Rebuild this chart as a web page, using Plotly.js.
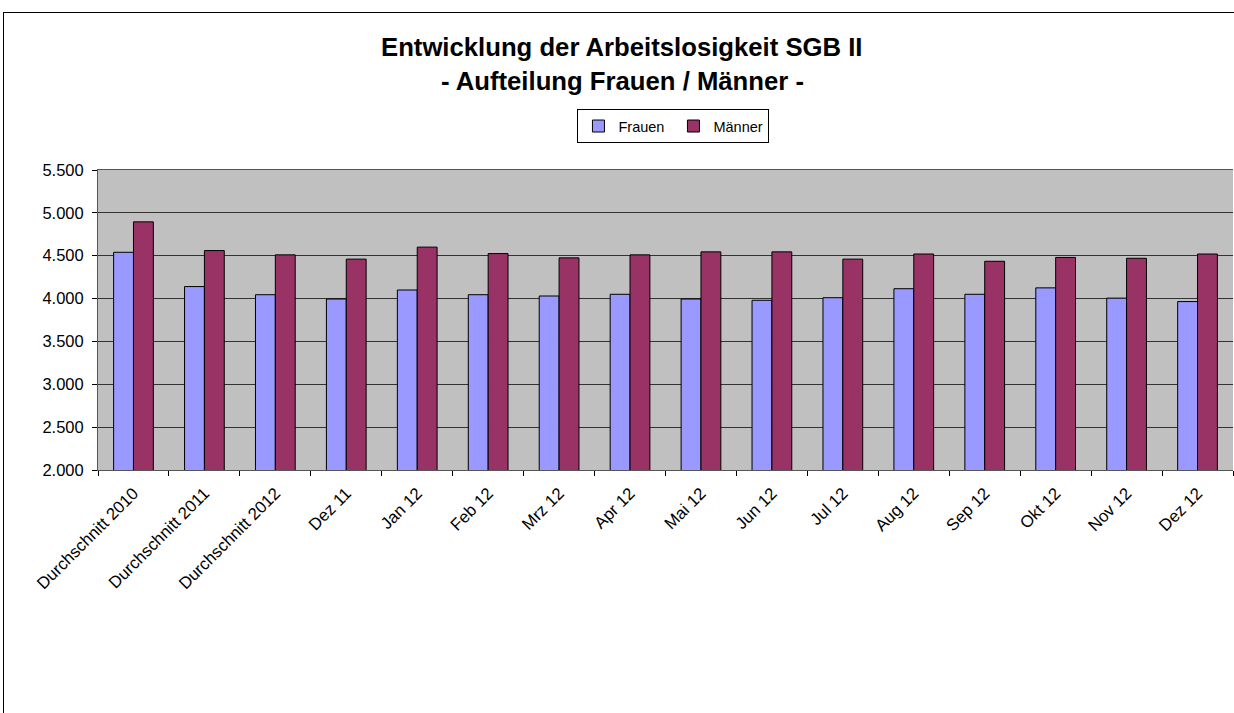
<!DOCTYPE html>
<html>
<head>
<meta charset="utf-8">
<script src="https://cdn.plot.ly/plotly-3.0.1.min.js"></script>
<style>
body{margin:0;background:#fff;overflow:hidden}
#plot{width:1234px;height:713px}
#frame{position:absolute;left:3px;top:12px;width:1300px;height:800px;border-left:1px solid #000;border-top:1px solid #000;pointer-events:none}
</style>
</head>
<body>
<div id="plot"></div>
<div id="frame"></div>
<script>
// categories (x axis)
const kategorien = [
"Durchschnitt 2010","Durchschnitt 2011","Durchschnitt 2012","Dez 11",
"Jan 12","Feb 12","Mrz 12","Apr 12","Mai 12","Jun 12",
"Jul 12","Aug 12","Sep 12","Okt 12","Nov 12","Dez 12"
]

// values
const frauen = [4540,4140,4045,3995,4100,4045,4030,4050,3995,3980,4010,4115,4050,4125,4005,3965]
const maenner = [4895,4560,4510,4460,4600,4525,4475,4510,4545,4545,4460,4520,4435,4480,4470,4520]

const yTicks = [2000,2500,3000,3500,4000,4500,5000,5500]

const FONT = "Arial, 'Liberation Sans', sans-serif"

const trace1={
x:kategorien,
y:frauen,
type:"bar",
name:"Frauen",
marker:{color:"#9999ff",line:{color:"#000",width:1}}
}

const trace2={
x:kategorien,
y:maenner,
type:"bar",
name:"Männer",
marker:{color:"#993366",line:{color:"#000",width:1}}
}

Plotly.newPlot(
"plot",
[trace1,trace2],
{
width:1234,
height:713,
margin:{l:98,r:1,t:170,b:243},
paper_bgcolor:"rgba(0,0,0,0)",
plot_bgcolor:"#c0c0c0",
separators:",.",
font:{family:FONT,color:"#000"},
barmode:"group",
bargap:0.44,
bargroupgap:0,
showlegend:true,
legend:{
orientation:"h",
x:0.507,xanchor:"center",
y:1.203,yanchor:"top",
bordercolor:"#000",borderwidth:1,
bgcolor:"#fff",
font:{size:14.5,family:FONT},
itemwidth:30,
entrywidth:50,
tracegroupgap:0
},
xaxis:{
type:"category",
tickangle:-45,
tickfont:{size:16.8,family:FONT},
ticks:"outside",
ticklen:5,
tickcolor:"#000",
tickson:"boundaries",
ticklabelstandoff:6,
showline:true,
linecolor:"#555",
linewidth:1,
mirror:true,
showgrid:false
},
yaxis:{
range:[2000,5500],
tickvals:yTicks,
tickformat:",d",
tickfont:{size:16.5,family:FONT},
ticks:"outside",
ticklen:5,
tickcolor:"#000",
ticklabelstandoff:5,
showline:true,
linecolor:"#555",
linewidth:1,
showgrid:true,
gridcolor:"#333",
gridwidth:1,
zeroline:false
},
annotations:[
{
text:"<b>Entwicklung der Arbeitslosigkeit SGB II</b>",
xref:"paper",yref:"paper",
x:0.4617,y:(470-47)/300,
xanchor:"center",yanchor:"middle",
showarrow:false,
font:{size:25.7,family:FONT}
},
{
text:"<b>- Aufteilung Frauen / Männer -</b>",
xref:"paper",yref:"paper",
x:0.4617,y:(470-81)/300,
xanchor:"center",yanchor:"middle",
showarrow:false,
font:{size:25.7,family:FONT}
}
]
},
{displayModeBar:false}
)
</script>
</body>
</html>
